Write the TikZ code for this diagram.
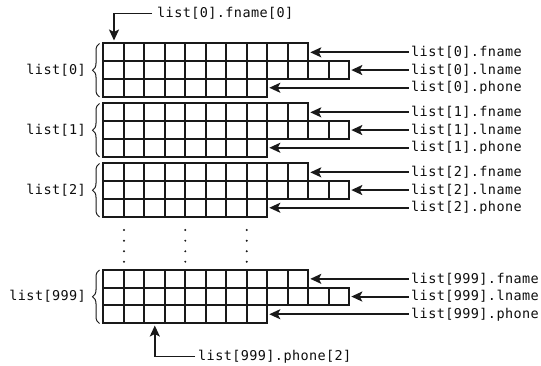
\documentclass[tikz,border=0pt]{standalone}
\usepackage{fontspec}
\newfontfamily\lblfont[LetterSpace=3]{DejaVu Sans Mono}
\usetikzlibrary{arrows.meta,decorations.pathreplacing}

\tikzset{
  cell/.style={draw=black!90, line width=2pt},
  ptr/.style={draw=black!90, line width=1.9pt,
    -{Stealth[length=11pt,width=10pt,inset=2.5pt]}},
  lbl/.style={font=\lblfont\fontsize{13.5}{13.5}\selectfont, inner sep=0pt, text=black!95},
  grp/.style={draw=black!90, line width=1pt,
    decorate, decoration={brace, amplitude=7pt}},
  dot/.style={fill=black!90}
}

\begin{document}
\begin{tikzpicture}[x=1pt, y=-1pt]
  \useasboundingbox (0,0) rectangle (541,366);

  % one record per block: fname (10 chars), lname (12 chars), phone (8 chars)
  \foreach \k/\idx/\top in {0/0/43.5, 1/1/103.5, 2/2/163.5, 3/999/270} {
    \foreach \r/\n/\fld in {0/10/fname, 1/12/lname, 2/8/phone} {
      \pgfmathsetmacro\yt{\top+\r*17.7}
      \foreach \c in {1,...,\n}
        \draw[cell] ({103.3+(\c-1)*20.5}, \yt) rectangle ++(20.5, 17.7);
      \coordinate (e\k\fld) at ({103.3+\n*20.5+2}, {\yt+8.85});
      \node[lbl, anchor=west] (t\k\fld) at (411, {\yt+8.85}) {list[\idx].\fld};
      \draw[ptr] ([xshift=-2.5pt]t\k\fld.west) -- (e\k\fld);
    }
    \node[lbl, anchor=east] (n\k) at (86, {\top+26.5}) {list[\idx]};
    \draw[grp] (99.5, {\top+53.5}) -- (99.5, \top);
  }

  % elided records
  \foreach \x in {124, 185.3, 246.7}
    \foreach \y in {230, 240.7, 251.3, 261.7}
      \fill[dot] (\x, \y) circle (1.1pt);

  % single-character callouts
  \node[lbl, anchor=west] (topl) at (157, 13.5) {list[0].fname[0]};
  \coordinate (c0) at (114, 40.5);
  \draw[ptr] ([xshift=-5pt]topl.west) -| (c0);

  \node[lbl, anchor=west] (botl) at (198, 356.5) {list[999].phone[2]};
  \coordinate (c1) at (154.8, 325.5);
  \draw[ptr] ([xshift=-3pt]botl.west) -| (c1);
\end{tikzpicture}
\end{document}
